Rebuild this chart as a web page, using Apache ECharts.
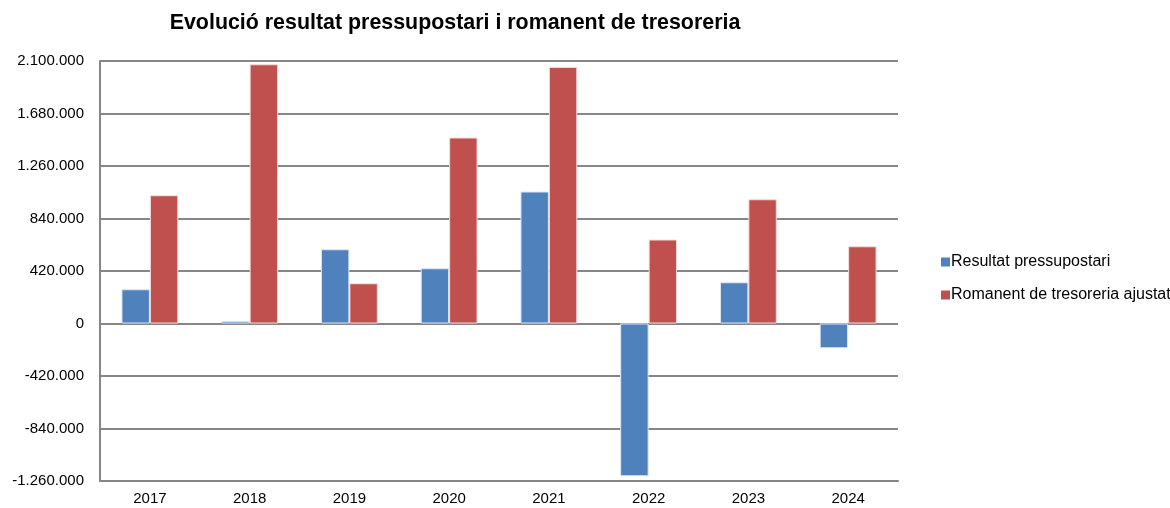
<!DOCTYPE html>
<html><head><meta charset="utf-8">
<script src="https://cdn.jsdelivr.net/npm/echarts@6/dist/echarts.min.js"></script>
<style>html,body{margin:0;padding:0;background:#fff}#c{width:1170px;height:508px}</style>
</head><body><div id="c"></div>
<script>
const categories = ['2017','2018','2019','2020','2021','2022','2023','2024'];
const resultatPressupostari = [274000, 21000, 594000, 442000, 1056000, -1222000, 330000, -198000];
const romanentTresoreria = [1026000, 2074000, 322000, 1488000, 2053000, 672000, 994000, 618000];
const seriesNames = ['Resultat pressupostari', 'Romanent de tresoreria ajustat'];
const titleText = 'Evolució resultat pressupostari i romanent de tresoreria';

function fmt(v){
  const s = Math.abs(v).toString().replace(/\B(?=(\d{3})+(?!\d))/g, '.');
  return (v < 0 ? '-' : '') + s;
}
const font = 'Liberation Sans, Arial, sans-serif';
const chart = echarts.init(document.getElementById('c'), null, {renderer:'canvas'});
chart.setOption({
  animation:false,
  title:{text:titleText,left:455,textAlign:'center',top:13,padding:0,
    textStyle:{fontFamily:font,fontSize:21.4,fontWeight:'bold',color:'#000'}},
  legend:{orient:'vertical',left:941,top:254,padding:0,itemWidth:9,itemHeight:9,itemGap:17,icon:'rect',
    itemStyle:{borderWidth:0},
    textStyle:{fontFamily:font,fontSize:16,color:'#000',padding:[0,0,0,-4]}},
  grid:{left:100,right:272,top:61,bottom:27,containLabel:false},
  xAxis:{type:'category',data:categories,
    axisLine:{onZero:false,lineStyle:{color:'#868686',width:2}},
    axisTick:{show:false},
    axisLabel:{fontFamily:font,fontSize:15,color:'#000',margin:10}},
  yAxis:{type:'value',min:-1260000,max:2100000,interval:420000,
    axisLine:{show:true,lineStyle:{color:'#868686',width:2}},
    axisTick:{show:false},
    splitLine:{lineStyle:{color:'#868686',width:2}},
    axisLabel:{fontFamily:font,fontSize:15,color:'#000',margin:16,formatter:fmt}},
  series:[
    {name:seriesNames[0],type:'bar',data:resultatPressupostari,barGap:'0%',barCategoryGap:'43%',
      itemStyle:{color:'#4F81BD',borderColor:'#dfe8f3',borderWidth:1}},
    {name:seriesNames[1],type:'bar',data:romanentTresoreria,barGap:'0%',barCategoryGap:'43%',
      itemStyle:{color:'#C0504D',borderColor:'#f3dcdc',borderWidth:1}}
  ]
});
</script></body></html>
